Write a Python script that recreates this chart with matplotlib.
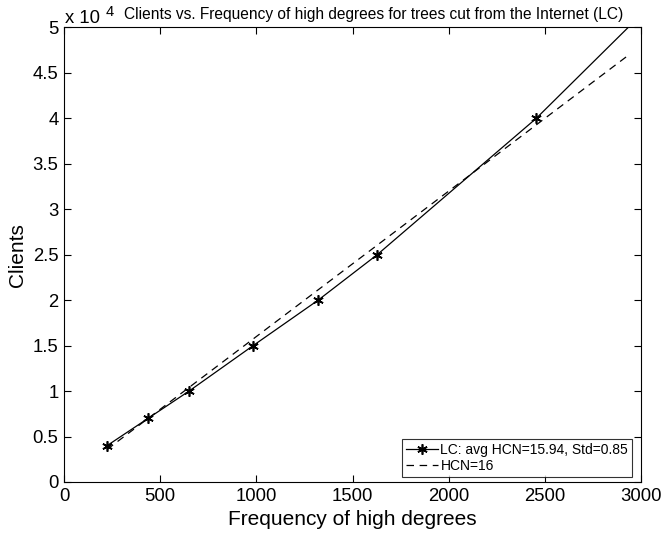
import matplotlib
matplotlib.use("Agg")
import matplotlib.pyplot as plt
import numpy as np

# valores
frecuencia = [224, 437, 650, 983, 1321, 1628, 2455, 2933]
clientes = [4000, 7000, 10000, 15000, 20000, 25000, 40000, 50000]
hcn = 16
etiqueta_lc = "LC: avg HCN=15.94, Std=0.85"
etiqueta_hcn = "HCN=16"

plt.rcParams['font.family'] = ['Liberation Sans', 'DejaVu Sans']

fig = plt.figure(figsize=(6.64, 5.38), dpi=100)
ax = fig.add_axes([0.0964, 0.1041, 0.8690, 0.8448])

ax.plot(frecuencia, clientes, color='black', linewidth=0.9, marker=(6, 2, 0),
        markersize=7.5, markeredgewidth=1.2,
        markevery=list(range(len(frecuencia) - 1)), label=etiqueta_lc)
ax.plot(frecuencia, [hcn * f for f in frecuencia], color='black',
        linewidth=0.9, linestyle=(0, (6, 4.5)), label=etiqueta_hcn)

ax.set_xlim(0, 3000)
ax.set_ylim(0, 50000)
ax.set_xticks(np.arange(0, 3001, 500))
ax.set_yticks(np.arange(0, 50001, 5000))
ax.set_xticklabels([str(v) for v in range(0, 3001, 500)])
ax.set_yticklabels(["0", "0.5", "1", "1.5", "2", "2.5", "3", "3.5", "4", "4.5", "5"])
ax.tick_params(direction='in', top=True, right=True, labelsize=13.3, length=5,
               pad=4, width=0.8)
for s in ax.spines.values():
    s.set_linewidth(0.8)

ax.set_xlabel("Frequency of high degrees", fontsize=15, labelpad=4)
ax.set_ylabel("Clients", fontsize=15, labelpad=4)
ax.set_title("Clients vs. Frequency of high degrees for trees cut from the Internet (LC)",
             fontsize=11.2, x=0.536, pad=6)

ax.text(0.002, 1.0, "x 10", transform=ax.transAxes, fontsize=13.3,
        ha='left', va='bottom')
ax.text(0.072, 1.019, "4", transform=ax.transAxes, fontsize=10.5,
        ha='left', va='bottom')

leg = ax.legend(loc='lower right', bbox_to_anchor=(0.985, 0.01), fontsize=10,
                frameon=True, fancybox=False, edgecolor='black',
                handlelength=2.3, borderpad=0.3, labelspacing=0.15,
                handletextpad=0.2, borderaxespad=0)
leg.get_frame().set_linewidth(0.8)

fig.savefig("out.png", dpi=100)
